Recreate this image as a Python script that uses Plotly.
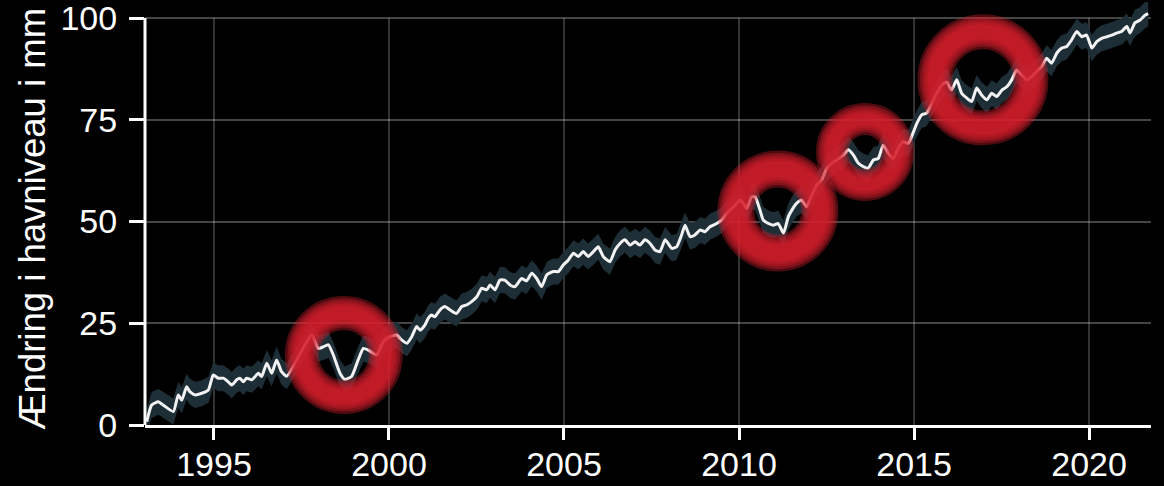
import plotly.graph_objects as go

# Sea level change at the harbour, mm (smoothed series with uncertainty band)
years = [
    1993.08, 1993.22, 1993.41, 1993.55, 1993.84, 1993.98, 1994.08, 1994.22, 1994.31, 1994.46,
    1994.65, 1994.84, 1994.98, 1995.12, 1995.27, 1995.41, 1995.51, 1995.65, 1995.74, 1995.84,
    1995.93, 1996.08, 1996.27, 1996.36, 1996.51, 1996.65, 1996.79, 1996.93, 1997.08, 1997.79,
    1997.98, 1998.12, 1998.27, 1998.41, 1998.60, 1998.74, 1998.93, 1999.12, 1999.27, 1999.41,
    1999.65, 1999.84, 2000.03, 2000.22, 2000.36, 2000.51, 2000.65, 2000.79, 2000.89, 2001.03,
    2001.12, 2001.22, 2001.31, 2001.46, 2001.60, 2001.74, 2001.93, 2002.08, 2002.22, 2002.36,
    2002.51, 2002.65, 2002.79, 2002.89, 2003.03, 2003.17, 2003.31, 2003.46, 2003.60, 2003.79,
    2003.93, 2004.08, 2004.22, 2004.36, 2004.51, 2004.69, 2004.84, 2004.98, 2005.12, 2005.27,
    2005.41, 2005.55, 2005.69, 2005.84, 2005.98, 2006.12, 2006.31, 2006.46, 2006.60, 2006.74,
    2006.89, 2007.03, 2007.17, 2007.31, 2007.46, 2007.60, 2007.74, 2007.89, 2008.08, 2008.22,
    2008.36, 2008.46, 2008.60, 2008.74, 2008.89, 2009.03, 2009.17, 2009.36, 2009.51, 2009.65,
    2009.84, 2010.03, 2010.12, 2010.22, 2010.36, 2010.46, 2010.60, 2010.69, 2010.84, 2010.98,
    2011.12, 2011.27, 2011.41, 2011.51, 2011.65, 2011.79, 2011.93, 2012.08, 2012.22, 2012.36,
    2012.51, 2012.65, 2012.79, 2012.98, 2013.12, 2013.27, 2013.41, 2013.55, 2013.69, 2013.84,
    2013.98, 2014.12, 2014.27, 2014.41, 2014.55, 2014.69, 2014.84, 2014.97, 2015.08, 2015.22,
    2015.36, 2015.51, 2015.65, 2015.79, 2015.93, 2016.07, 2016.22, 2016.36, 2016.51, 2016.65,
    2016.79, 2016.93, 2017.08, 2017.22, 2017.36, 2017.51, 2017.65, 2017.79, 2017.93, 2018.08,
    2018.22, 2018.36, 2018.51, 2018.65, 2018.79, 2018.93, 2019.08, 2019.22, 2019.36, 2019.50,
    2019.65, 2019.79, 2019.93, 2020.08, 2020.22, 2020.36, 2020.51, 2020.65, 2020.79, 2020.93,
    2021.08, 2021.17, 2021.31, 2021.46, 2021.60, 2021.69,
]
sea_level_mm = [
    0.8, 4.9, 5.7, 4.9, 3.3, 7.4, 6.1, 9.4, 8.2, 7.4,
    7.8, 8.6, 12.3, 11.5, 11.5, 10.6, 9.8, 11.1, 11.5, 10.6,
    11.5, 11.1, 12.7, 11.9, 15.2, 12.7, 16.0, 13.1, 12.0, 22.1,
    18.8, 19.2, 19.7, 17.2, 12.7, 11.2, 11.9, 16.0, 18.8, 18.4,
    17.2, 20.5, 21.7, 22.1, 20.9, 20.1, 21.7, 24.2, 23.3, 24.6,
    26.2, 27.0, 26.6, 28.3, 29.1, 28.3, 27.4, 29.1, 29.5, 30.3,
    31.5, 33.6, 33.2, 34.4, 33.2, 35.6, 35.6, 34.4, 34.0, 36.0,
    35.4, 37.3, 36.0, 34.0, 36.9, 37.7, 37.7, 39.3, 40.5, 42.2,
    41.4, 42.6, 41.4, 42.6, 43.8, 41.4, 40.1, 43.0, 44.6, 45.5,
    44.2, 45.0, 44.2, 45.5, 44.6, 43.0, 42.6, 45.5, 43.4, 43.8,
    46.7, 49.1, 46.3, 46.7, 47.9, 47.5, 48.7, 49.5, 50.4, 52.0,
    53.6, 55.3, 54.5, 53.2, 56.1, 56.1, 52.8, 50.4, 49.5, 49.1,
    49.5, 47.1, 51.2, 52.8, 54.5, 55.3, 53.6, 56.5, 59.0, 60.2,
    63.1, 64.3, 65.1, 66.3, 67.6, 66.3, 64.3, 63.5, 63.1, 65.1,
    65.5, 68.8, 66.7, 65.5, 68.0, 69.6, 69.2, 71.7, 74.1, 76.2,
    76.6, 79.1, 81.5, 83.5, 84.3, 82.3, 84.8, 81.5, 80.3, 79.5,
    82.8, 81.1, 79.9, 81.5, 80.7, 82.3, 83.1, 84.8, 87.2, 86.0,
    84.8, 85.6, 86.9, 88.1, 90.1, 88.9, 91.4, 92.6, 93.0, 94.6,
    96.7, 95.4, 95.8, 92.6, 94.2, 95.0, 95.4, 95.8, 96.3, 96.7,
    97.9, 96.3, 98.8, 99.5, 100.7, 101.1,
]
band_halfwidth_mm = 3.2

x_ticks = [1995, 2000, 2005, 2010, 2015, 2020]
y_ticks = [0, 25, 50, 75, 100]
y_title = "Ændring i havniveau i mm"

# Highlighted episodes: (year, mm, ring radius px, ring thickness px)
highlights = [
    (1998.71, 17.2, 42, 24),
    (2011.11, 52.6, 42, 27),
    (2013.60, 67.1, 33, 22),
    (2016.97, 84.8, 48, 25),
]

FONT = "Liberation Sans, Arial, Helvetica, sans-serif"
GRID = "rgba(255,255,255,0.27)"
RING_RGB = "216,30,44"

upper = [v + band_halfwidth_mm for v in sea_level_mm]
lower = [v - band_halfwidth_mm for v in sea_level_mm]

fig = go.Figure()
fig.add_trace(go.Scatter(x=years, y=upper, mode="lines", line=dict(width=0),
                         hoverinfo="skip"))
fig.add_trace(go.Scatter(x=years, y=lower, mode="lines", line=dict(width=0),
                         fill="tonexty", fillcolor="#1e2e36", hoverinfo="skip"))
fig.add_trace(go.Scatter(x=years, y=sea_level_mm, mode="lines",
                         line=dict(color="#f2f2f2", width=3, shape="spline", smoothing=0.5)))

shapes = []
# vertical grid lines stop at the top tick
for t in x_ticks:
    shapes.append(dict(type="line", xref="x", yref="y", x0=t, x1=t, y0=0, y1=max(y_ticks),
                       line=dict(color=GRID, width=1.5), layer="below"))
# y axis spine from 0 to the top tick
shapes.append(dict(type="line", xref="paper", yref="y", x0=0, x1=0, y0=0, y1=max(y_ticks),
                   line=dict(color="white", width=3), layer="above"))

# soft-edged red rings, built from stacked translucent circles
for yr, mm, rad, thick in highlights:
    for dw in (10, 5, 0, -5, -10):
        shapes.append(dict(type="circle", xref="x", yref="y",
                           xsizemode="pixel", ysizemode="pixel",
                           xanchor=yr, yanchor=mm,
                           x0=-rad, x1=rad, y0=-rad, y1=rad,
                           line=dict(color=f"rgba({RING_RGB},0.36)", width=max(thick + dw, 2)),
                           fillcolor="rgba(0,0,0,0)", layer="above"))

fig.update_layout(
    width=1164, height=486,
    margin=dict(l=145, r=13, t=2, b=61),
    paper_bgcolor="black", plot_bgcolor="black",
    showlegend=False,
    font=dict(family=FONT, color="white"),
    shapes=shapes,
    annotations=[dict(text=y_title, xref="paper", yref="paper", x=-0.112, y=0.488,
                      xanchor="center", yanchor="middle", textangle=-90, showarrow=False,
                      font=dict(size=36.5, color="white", family=FONT))],
)
fig.update_xaxes(range=[1993.03, 2021.77], tickvals=x_ticks, ticks="outside",
                 ticklen=12, tickwidth=2.5, tickcolor="white",
                 showline=True, linecolor="white", linewidth=3,
                 showgrid=False, zeroline=False, automargin=False,
                 tickfont=dict(size=34, color="white"), ticklabelstandoff=-5)
fig.update_yaxes(range=[0, 103.93], tickvals=y_ticks, ticks="outside",
                 ticklen=15, tickwidth=3, tickcolor="white",
                 showline=False, showgrid=True, gridcolor=GRID, gridwidth=1.5,
                 zeroline=False, ticklabeloverflow="allow", automargin=False,
                 tickfont=dict(size=34, color="white"), ticklabelstandoff=5)

fig.write_html("out.html")
